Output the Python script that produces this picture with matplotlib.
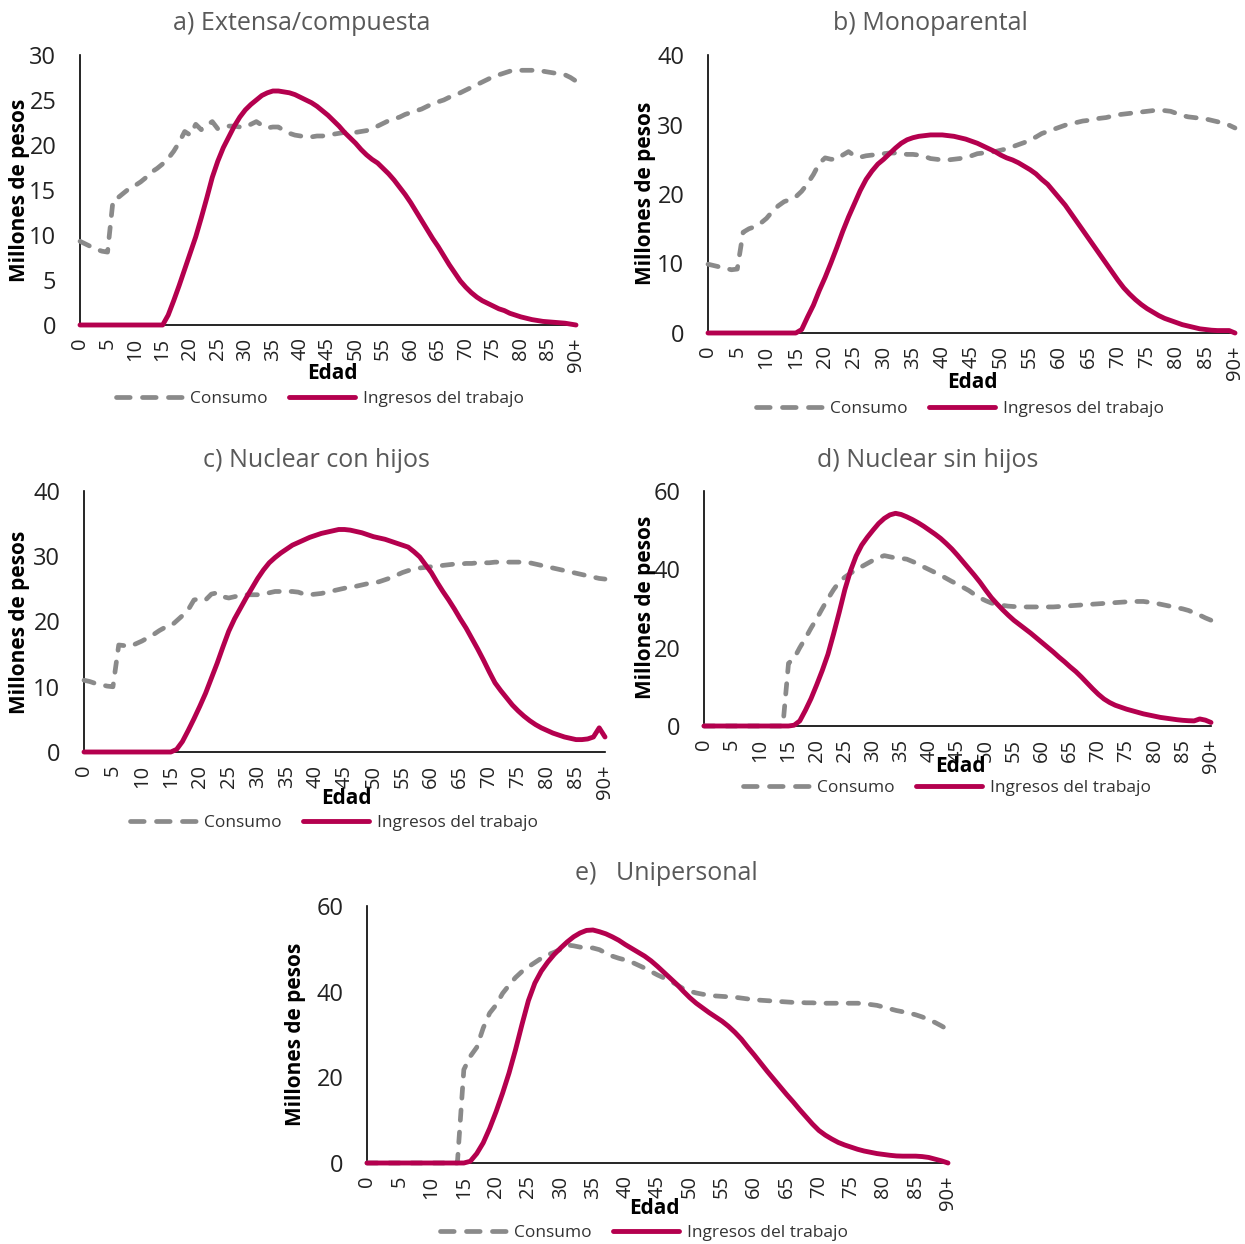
import matplotlib
matplotlib.use("Agg")
import matplotlib.pyplot as plt
from matplotlib import font_manager as fm
from matplotlib.lines import Line2D

# ---------------- data ----------------
ages = list(range(0, 91))
tick_pos = list(range(0, 91, 5))
tick_labels = [str(a) for a in range(0, 90, 5)] + ["90+"]

titles = ["a) Extensa/compuesta", "b) Monoparental", "c) Nuclear con hijos",
          "d) Nuclear sin hijos", "e)   Unipersonal"]
series_names = ["Consumo", "Ingresos del trabajo"]
y_label = "Millones de pesos"
x_label = "Edad"

cons_a = [9.3, 9.0, 8.7, 8.4, 8.2, 8.1, 13.9, 14.2, 14.7, 15.2,
          15.5, 15.9, 16.4, 17.0, 17.4, 17.9, 18.5, 19.3, 20.3, 21.5,
          21.1, 22.3, 21.7, 22.2, 22.6, 21.8, 21.9, 22.1, 22.1, 22.0,
          22.0, 22.3, 22.6, 22.2, 21.9, 22.0, 22.0, 21.6, 21.3, 21.1,
          21.0, 20.9, 20.9, 21.0, 21.0, 21.1, 21.2, 21.3, 21.4, 21.4,
          21.4, 21.5, 21.6, 21.9, 22.1, 22.4, 22.7, 22.9, 23.1, 23.4,
          23.6, 23.8, 24.0, 24.3, 24.6, 24.8, 25.0, 25.3, 25.5, 25.8,
          26.1, 26.4, 26.7, 27.0, 27.3, 27.6, 27.8, 28.0, 28.2, 28.3,
          28.3, 28.3, 28.3, 28.3, 28.2, 28.1, 28.0, 27.9, 27.8, 27.5,
          27.1]
inc_a = [0, 0, 0, 0, 0, 0, 0, 0, 0, 0,
         0, 0, 0, 0, 0, 0, 1.1, 2.7, 4.4, 6.2,
         8.0, 9.8, 11.9, 14.1, 16.4, 18.2, 19.7, 20.9, 22.1, 23.1,
         23.9, 24.5, 25.0, 25.5, 25.8, 26.0, 26.0, 25.9, 25.8, 25.6,
         25.3, 25.0, 24.7, 24.3, 23.8, 23.3, 22.7, 22.1, 21.4, 20.8,
         20.2, 19.5, 18.9, 18.4, 18.0, 17.4, 16.8, 16.1, 15.3, 14.5,
         13.6, 12.6, 11.6, 10.6, 9.6, 8.7, 7.7, 6.7, 5.8, 4.9,
         4.2, 3.6, 3.1, 2.7, 2.4, 2.1, 1.8, 1.6, 1.3, 1.1,
         0.9, 0.75, 0.6, 0.5, 0.4, 0.35, 0.3, 0.25, 0.2, 0.1,
         0.0]

cons_b = [9.9, 9.7, 9.5, 9.3, 9.1, 9.2, 14.5, 15.0, 15.3, 15.8,
          16.5, 17.5, 18.3, 18.9, 19.2, 19.6, 20.4, 21.5, 22.8, 24.4,
          25.2, 25.0, 25.0, 25.6, 26.1, 25.5, 25.3, 25.5, 25.6, 25.7,
          25.8, 25.9, 25.9, 25.8, 25.7, 25.7, 25.6, 25.4, 25.1, 25.0,
          24.9, 24.9, 25.0, 25.1, 25.3, 25.5, 25.8, 25.9, 26.0, 26.1,
          26.3, 26.5, 26.8, 27.1, 27.4, 27.8, 28.2, 28.7, 29.0, 29.3,
          29.6, 29.9, 30.1, 30.3, 30.5, 30.6, 30.8, 30.9, 31.0, 31.2,
          31.4, 31.5, 31.6, 31.7, 31.8, 31.9, 32.0, 32.0, 32.0, 31.9,
          31.6, 31.3, 31.1, 31.0, 30.9, 30.8, 30.6, 30.4, 30.2, 29.9,
          29.5]
inc_b = [0, 0, 0, 0, 0, 0, 0, 0, 0, 0,
         0, 0, 0, 0, 0, 0, 0.5, 2.3, 4.0, 6.1,
         8.0, 10.1, 12.3, 14.6, 16.7, 18.6, 20.5, 22.1, 23.3, 24.3,
         25.0, 25.8, 26.6, 27.3, 27.8, 28.1, 28.3, 28.4, 28.5, 28.5,
         28.5, 28.4, 28.3, 28.1, 27.9, 27.6, 27.3, 26.9, 26.5, 26.1,
         25.6, 25.2, 24.9, 24.5, 24.0, 23.5, 22.9, 22.1, 21.4, 20.4,
         19.4, 18.4, 17.2, 16.0, 14.8, 13.6, 12.4, 11.2, 10.0, 8.8,
         7.6, 6.5, 5.6, 4.8, 4.1, 3.5, 3.0, 2.5, 2.1, 1.8,
         1.5, 1.2, 1.0, 0.8, 0.6, 0.5, 0.4, 0.35, 0.35, 0.35,
         0.0]

cons_c = [11.0, 10.8, 10.5, 10.3, 10.1, 10.0, 16.4, 16.3, 16.2, 16.6,
          17.0, 17.5, 18.0, 18.6, 19.1, 19.3, 20.1, 20.9, 21.8, 23.3,
          23.5, 23.3, 24.2, 24.4, 23.8, 23.6, 23.8, 24.0, 24.1, 24.1,
          24.1, 24.2, 24.4, 24.6, 24.6, 24.6, 24.6, 24.5, 24.2, 24.1,
          24.2, 24.3, 24.5, 24.7, 24.9, 25.1, 25.3, 25.4, 25.6, 25.8,
          25.9, 26.1, 26.4, 26.7, 27.1, 27.5, 27.8, 28.0, 28.2, 28.3,
          28.4, 28.5, 28.6, 28.7, 28.8, 28.8, 28.9, 28.9, 29.0, 29.0,
          29.0, 29.1, 29.1, 29.1, 29.1, 29.1, 29.1, 29.0, 28.8, 28.6,
          28.4, 28.2, 28.0, 27.8, 27.6, 27.4, 27.2, 27.0, 26.8, 26.6,
          26.5]
inc_c = [0, 0, 0, 0, 0, 0, 0, 0, 0, 0,
         0, 0, 0, 0, 0, 0, 0.4, 1.6, 3.3, 5.1,
         7.0, 9.0, 11.3, 13.6, 16.1, 18.5, 20.4, 22.0, 23.6, 25.1,
         26.6, 27.9, 29.0, 29.8, 30.5, 31.1, 31.7, 32.1, 32.5, 32.9,
         33.2, 33.5, 33.7, 33.9, 34.1, 34.1, 34.0, 33.8, 33.6, 33.3,
         33.0, 32.8, 32.6, 32.3, 32.0, 31.7, 31.4, 30.7, 29.9, 28.7,
         27.5, 26.0, 24.6, 23.3, 21.9, 20.4, 19.0, 17.4, 15.8, 14.1,
         12.3, 10.6, 9.4, 8.3, 7.2, 6.3, 5.5, 4.8, 4.2, 3.7,
         3.3, 2.9, 2.6, 2.3, 2.1, 1.9, 1.9, 2.0, 2.3, 3.7,
         2.3]

cons_d = [0, 0, 0, 0, 0, 0, 0, 0, 0, 0,
          0, 0, 0, 0, 0, 16.0, 17.3, 20.0, 22.4, 25.0,
          27.4, 30.0, 32.5, 34.8, 36.8, 38.0, 39.0, 39.9, 40.7, 41.5,
          42.3, 43.0, 43.5, 43.2, 42.9, 42.8, 42.6, 42.0, 41.4, 40.6,
          39.9, 39.2, 38.5, 37.7, 36.9, 36.2, 35.4, 34.6, 33.6, 32.7,
          32.0, 31.4, 31.0, 30.8, 30.6, 30.5, 30.4, 30.4, 30.4, 30.4,
          30.4, 30.4, 30.4, 30.5, 30.6, 30.7, 30.8, 30.9, 31.0, 31.1,
          31.2, 31.3, 31.4, 31.5, 31.6, 31.7, 31.8, 31.8, 31.8, 31.6,
          31.4, 31.1, 30.8, 30.5, 30.2, 29.9, 29.5, 28.9, 28.3, 27.6,
          27.0]
inc_d = [0, 0, 0, 0, 0, 0, 0, 0, 0, 0,
         0, 0, 0, 0, 0, 0, 0.2, 1.3, 4.0, 7.0,
         10.5, 14.2, 18.3, 23.5, 29.0, 34.8, 39.6, 43.4, 46.2, 48.2,
         50.0, 51.7, 53.0, 53.9, 54.3, 54.0, 53.4, 52.7, 51.9, 51.0,
         50.0, 49.0, 47.9, 46.6, 45.2, 43.6, 41.9, 40.2, 38.5, 36.7,
         34.7, 32.8, 31.2, 29.7, 28.3, 27.0, 25.9, 24.8, 23.7, 22.5,
         21.3, 20.1, 18.9, 17.6, 16.4, 15.1, 13.9, 12.5, 11.0, 9.5,
         8.1, 6.9, 6.0, 5.3, 4.8, 4.3, 3.9, 3.5, 3.1, 2.8,
         2.5, 2.2, 2.0, 1.8, 1.6, 1.45, 1.35, 1.3, 1.8, 1.5,
         0.9]

cons_e = [0, 0, 0, 0, 0, 0, 0, 0, 0, 0,
          0, 0, 0, 0, 0, 21.8, 24.9, 27.0, 31.5, 35.0,
          36.9, 39.6, 41.5, 43.3, 44.7, 45.8, 46.8, 47.8, 48.6, 49.2,
          49.9, 50.9, 50.7, 50.4, 50.3, 50.2, 49.8, 49.0, 48.3, 47.8,
          47.4, 46.9, 46.2, 45.5, 44.7, 43.9, 43.2, 42.5, 41.6, 40.7,
          40.1, 39.7, 39.4, 39.2, 39.0, 38.9, 38.8, 38.7, 38.5, 38.3,
          38.1, 38.0, 37.9, 37.8, 37.7, 37.6, 37.5, 37.5, 37.4, 37.4,
          37.3, 37.3, 37.3, 37.3, 37.3, 37.3, 37.3, 37.2, 37.0, 36.8,
          36.4, 36.0, 35.6, 35.3, 35.0, 34.6, 34.1, 33.5, 32.8, 32.0,
          31.1]
inc_e = [0, 0, 0, 0, 0, 0, 0, 0, 0, 0,
         0, 0, 0, 0, 0, 0, 0.4, 2.2, 4.7, 8.1,
         12.0, 16.3, 21.0, 26.4, 32.3, 37.9, 42.0, 44.8, 46.9, 48.7,
         50.2, 51.6, 52.8, 53.7, 54.3, 54.4, 54.0, 53.5, 52.8, 52.0,
         51.0, 50.1, 49.2, 48.3, 47.2, 45.9, 44.5, 43.1, 41.7, 40.1,
         38.6, 37.3, 36.2, 35.1, 34.1, 33.1, 31.9, 30.5, 28.9, 27.0,
         25.2, 23.3, 21.4, 19.6, 17.8, 16.0, 14.3, 12.5, 10.8, 9.1,
         7.6, 6.5, 5.6, 4.8, 4.2, 3.7, 3.2, 2.8, 2.5, 2.2,
         2.0, 1.8, 1.65, 1.6, 1.6, 1.6, 1.5, 1.3, 0.9, 0.5,
         0.0]

y_max = [30, 40, 40, 60, 60]
y_step = [5, 10, 10, 20, 20]

# ---------------- style ----------------
W, H = 1245, 1244
DPI = 100
GRAY = "#8a8a8a"
RED = "#b4004e"
TITLE_C = "#595959"
DASH = (2.2, 2.5)
LEG_DASH = (2.9, 2.6)

names = {f.name for f in fm.fontManager.ttflist}
BASE = "Open Sans" if "Open Sans" in names else "DejaVu Sans"
plt.rcParams["font.family"] = [BASE, "DejaVu Sans"]

fig = plt.figure(figsize=(W / DPI, H / DPI), dpi=DPI)
fig.patch.set_facecolor("white")


def fx(x):
    return x / W


def fy(y):
    return 1 - y / H


# pixel boxes: left, right, top, bottom of the plotting area
boxes = [(80, 576, 55, 325), (708, 1235, 55, 333), (84, 605, 491, 752),
         (704, 1211, 491, 726), (367, 948, 906, 1163)]
title_pos = [(302, 23), (930, 23), (316, 460), (928, 460), (666, 874)]
ylab_pos = [(20, 190), (645, 193), (20, 622), (645, 607), (296, 1034)]
xlab_pos = [(332, 373), (972, 383), (346, 799), (960, 767), (654, 1209)]
leg_pos = [(320, 399), (960, 409), (334, 823), (947, 788), (644, 1233)]

cons_all = [cons_a, cons_b, cons_c, cons_d, cons_e]
inc_all = [inc_a, inc_b, inc_c, inc_d, inc_e]

for i in range(5):
    l, r, t, b = boxes[i]
    ax = fig.add_axes([fx(l), fy(b), (r - l) / W, (b - t) / H])
    ax.plot(ages, cons_all[i], color=GRAY, lw=3.4, dashes=DASH,
            dash_capstyle="round", dash_joinstyle="round",
            zorder=3, clip_on=False)
    ax.plot(ages, inc_all[i], color=RED, lw=3.5, solid_joinstyle="round",
            solid_capstyle="round", zorder=4, clip_on=False)
    ax.set_xlim(0, 90)
    ax.set_ylim(0, y_max[i])
    ax.set_yticks(list(range(0, y_max[i] + 1, y_step[i])))
    ax.set_xticks(tick_pos)
    ax.set_xticklabels(tick_labels, rotation=90, fontsize=14.5,
                       color="#222222")
    for lab in ax.get_yticklabels():
        lab.set_fontsize(17)
        lab.set_color("#222222")
    ax.tick_params(axis="both", length=0)
    ax.tick_params(axis="y", pad=17)
    ax.tick_params(axis="x", pad=9)
    for s in ["top", "right"]:
        ax.spines[s].set_visible(False)
    for s in ["left", "bottom"]:
        ax.spines[s].set_color("black")
        ax.spines[s].set_linewidth(1.2)
    ax.patch.set_alpha(0)

    tx, ty = title_pos[i]
    fig.text(fx(tx), fy(ty), titles[i], ha="center", va="center",
             fontsize=18, color=TITLE_C)
    yx, yy = ylab_pos[i]
    fig.text(fx(yx), fy(yy), y_label, ha="center", va="center",
             rotation=90, fontsize=15, fontweight="bold", color="black")
    xx, xy = xlab_pos[i]
    fig.text(fx(xx), fy(xy), x_label, ha="center", va="center",
             fontsize=15, fontweight="bold", color="black")

    handles = [Line2D([], [], color=GRAY, lw=3.4, dashes=LEG_DASH,
                      dash_capstyle="round"),
               Line2D([], [], color=RED, lw=3.5, solid_capstyle="round")]
    lx, ly = leg_pos[i]
    leg = fig.legend(handles, series_names, loc="center",
                     bbox_to_anchor=(fx(lx), fy(ly)), ncol=2, frameon=False,
                     handlelength=3.8, handletextpad=0.5, columnspacing=1.2,
                     prop={"size": 12.5})
    for txt in leg.get_texts():
        txt.set_color("#333333")

fig.savefig("out.png", dpi=DPI, facecolor="white")
